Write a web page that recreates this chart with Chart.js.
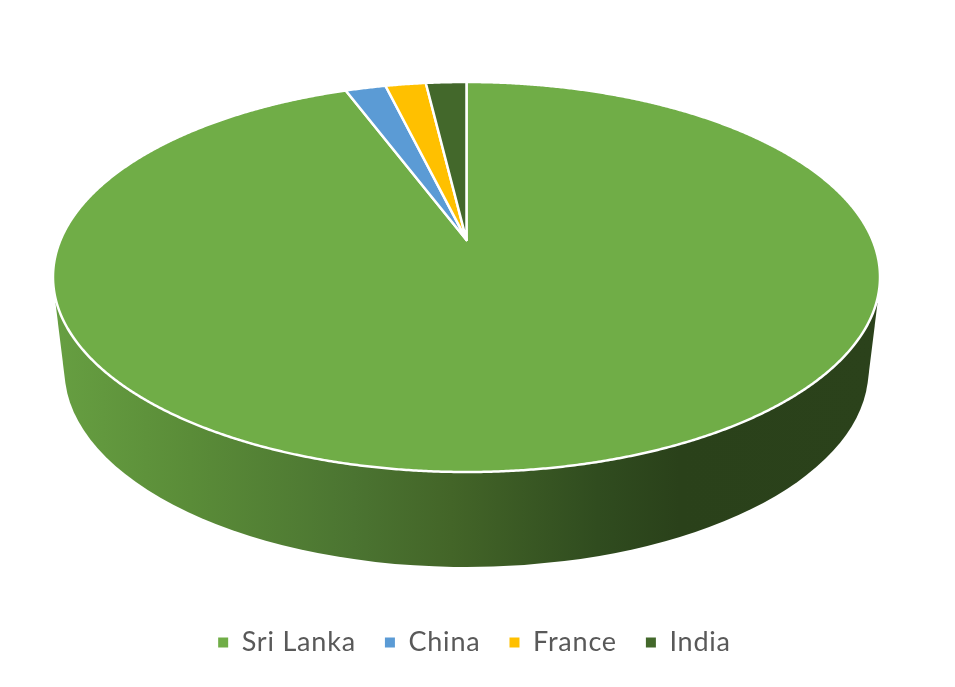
<!DOCTYPE html>
<html><head><meta charset="utf-8">
<style>html,body{margin:0;padding:0;background:#fff}canvas{display:block}</style>
<script src="https://cdn.jsdelivr.net/npm/chart.js@4"></script>
</head><body><canvas id="c" width="955" height="687"></canvas>
<script>
const categories = ["Sri Lanka", "China", "France", "India"];
const shares = [94.3, 1.9, 1.9, 1.9];
const sliceColors = ["#70AD47", "#5B9BD5", "#FFC000", "#43682B"];

// Projection of the pie disc seen in perspective
const TOP = {cx: 466.5, cy: 277, rx: 413.5, ry: 195, b: -0.19};
const BASE = {cx: 466.5, cy: 370, rx: 402, ry: 197};

function project(a) {
  const u = Math.cos(a), v = -Math.sin(a), d = 1 - TOP.b * v;
  return [TOP.cx + TOP.rx * u * Math.sqrt(1 - TOP.b * TOP.b) / d,
          TOP.cy + TOP.ry * (TOP.b - v) / d];
}
const pie3d = {
  id: 'pie3d',
  beforeUpdate(chart) { chart.ctx.letterSpacing = '0.8px'; },
  beforeDatasetDraw(chart) {
    const ctx = chart.ctx;
    const arcs = chart.getDatasetMeta(0).data;
    // side wall
    ctx.save();
    const g = ctx.createLinearGradient(60, 0, 875, 0);
    g.addColorStop(0, '#669E41');
    g.addColorStop(0.16, '#5A8C38');
    g.addColorStop(0.36, '#4B7431');
    g.addColorStop(0.48, '#436528');
    g.addColorStop(0.66, '#304C1F');
    g.addColorStop(0.76, '#2A411A');
    g.addColorStop(1, '#2B421B');
    ctx.fillStyle = g;
    ctx.beginPath();
    ctx.moveTo(TOP.cx - 411, 303);
    ctx.ellipse(BASE.cx, BASE.cy, BASE.rx, BASE.ry, 0, Math.PI - 0.066, 0.066, true);
    ctx.lineTo(TOP.cx + 411, 303);
    ctx.closePath();
    ctx.fill();
    // top face
    const apex = [TOP.cx, TOP.cy + TOP.ry * TOP.b];
    ctx.lineJoin = 'round';
    ctx.lineWidth = 2.5;
    ctx.strokeStyle = '#fff';
    arcs.forEach((arc, i) => {
      const {startAngle: s, endAngle: e} = arc.getProps(['startAngle', 'endAngle'], true);
      ctx.beginPath();
      ctx.moveTo(apex[0], apex[1]);
      const n = Math.max(4, Math.ceil((e - s) / 0.005));
      for (let k = 0; k <= n; k++) {
        const p = project(s + (e - s) * k / n);
        ctx.lineTo(p[0], p[1]);
      }
      ctx.closePath();
      ctx.fillStyle = sliceColors[i];
      ctx.fill();
      ctx.stroke();
    });
    ctx.restore();
    return false;
  }
};

new Chart(document.getElementById('c').getContext('2d'), {
  type: 'pie',
  data: {
    labels: categories,
    datasets: [{data: shares, backgroundColor: sliceColors, borderWidth: 0}]
  },
  plugins: [pie3d],
  options: {
    responsive: false,
    animation: false,
    layout: {padding: {top: 60, bottom: 21, right: 6}},
    plugins: {
      tooltip: {enabled: false},
      title: {display: false},
      legend: {
        position: 'bottom',
        labels: {
          boxWidth: 10, boxHeight: 10, padding: 29, color: '#595959',
          font: {family: 'Lato', size: 27}
        }
      }
    }
  }
});
</script></body></html>
